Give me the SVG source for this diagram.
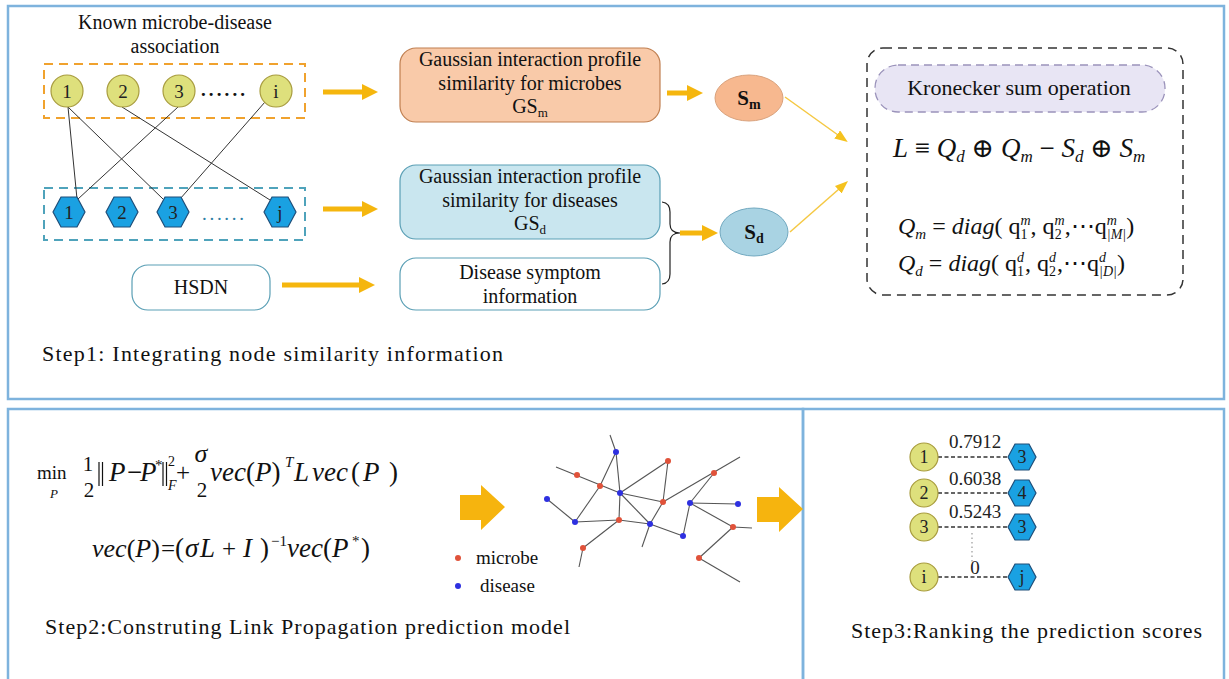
<svg xmlns="http://www.w3.org/2000/svg" width="1229" height="679" viewBox="0 0 1229 679">
<style>
.panel{fill:none;stroke:#7EB3DD;stroke-width:2.5}
.t{font-family:"Liberation Serif","Times New Roman","DejaVu Serif",serif;fill:#111}
.it{font-style:italic}
.mid{text-anchor:middle}
.mc{fill:#DEE07C;stroke:#A89C3E;stroke-width:1.2}
.dh{fill:#1AA1E2;stroke:#1F4E79;stroke-width:1.2}
.nl{font-family:"Liberation Serif","DejaVu Serif",serif;font-size:19px;text-anchor:middle;fill:#222}
.nl2{font-family:"Liberation Serif","DejaVu Serif",serif;font-size:18px;text-anchor:middle;fill:#222}
.bip{stroke:#333;stroke-width:1;fill:none}
.arr{stroke:#F5B60E;stroke-width:5;fill:none}
.thin{stroke:#F5C842;stroke-width:1.5;fill:none}
.net{stroke:#555;stroke-width:1.1}
.rn{fill:#E0523A}
.bn{fill:#2E30E0}
.score{stroke:#333;stroke-width:1.3;stroke-dasharray:4 2.5}
.lbl{font-family:"Liberation Serif","DejaVu Serif",serif;font-size:19px;text-anchor:middle;fill:#222}
.big{fill:#F6B40E}
.bar{stroke:#111;stroke-width:1.2}
</style>
<defs>
<marker id="ah" markerUnits="userSpaceOnUse" markerWidth="18" markerHeight="18" refX="1" refY="8" orient="auto"><path d="M0,0 L16,8 L0,16 z" fill="#F5B60E"/></marker>
<marker id="ah2" markerUnits="userSpaceOnUse" markerWidth="14" markerHeight="12" refX="1" refY="5" orient="auto"><path d="M0,0 L13,5 L0,10 z" fill="#F5C21E"/></marker>
<polygon id="hex" points="-16,0 -8,-15 8,-15 16,0 8,15 -8,15"/>
<polygon id="hexs" points="-14,0 -7,-13 7,-13 14,0 7,13 -7,13"/>
</defs>

<!-- panels -->
<rect class="panel" x="8" y="6" width="1216" height="393"/>
<rect class="panel" x="8" y="409" width="795" height="276"/>
<rect class="panel" x="803" y="409" width="421" height="276"/>

<!-- Step 1 -->
<g id="known-assoc">
<text class="t mid" x="175" y="29" font-size="20">Known microbe-disease</text>
<text class="t mid" x="175" y="53" font-size="20">association</text>
<rect x="44" y="64" width="261" height="54" fill="none" stroke="#F0A22E" stroke-width="2" stroke-dasharray="9 6"/>
<rect x="44" y="188" width="261" height="52" fill="none" stroke="#4FA3BB" stroke-width="2" stroke-dasharray="9 6"/>
</g>

<g id="connectors">
<line class="bip" x1="68" y1="107" x2="77" y2="199"/>
<line class="bip" x1="68" y1="107" x2="163" y2="199"/>
<line class="bip" x1="122" y1="107" x2="270" y2="200"/>
<line class="bip" x1="178" y1="107" x2="78" y2="199"/>
<line class="bip" x1="265" y1="102" x2="180" y2="199"/>
<line class="arr" x1="323" y1="92" x2="363" y2="92" marker-end="url(#ah)"/>
<line class="arr" x1="323" y1="209" x2="363" y2="209" marker-end="url(#ah)"/>
<line class="arr" x1="282" y1="285" x2="360" y2="285" marker-end="url(#ah)"/>
<line class="arr" x1="667" y1="93" x2="688" y2="93" marker-end="url(#ah)"/>
<line class="arr" x1="680" y1="233" x2="703" y2="233" marker-end="url(#ah)"/>
<path d="M662,202 Q670,203 670,212 L670,224 Q670,233 680,233 Q670,233 670,242 L670,274 Q670,283 662,284" fill="none" stroke="#222" stroke-width="1.2"/>
<line class="thin" x1="785" y1="97" x2="838" y2="135" marker-end="url(#ah2)"/>
<line class="thin" x1="790" y1="232" x2="839" y2="189" marker-end="url(#ah2)"/>
</g>

<g id="microbe-1"><circle class="mc" cx="67" cy="91" r="16"/><text class="nl" x="67" y="98">1</text></g>
<g id="microbe-2"><circle class="mc" cx="123" cy="91" r="16"/><text class="nl" x="123" y="98">2</text></g>
<g id="microbe-3"><circle class="mc" cx="179" cy="91" r="16"/><text class="nl" x="179" y="98">3</text></g>
<text class="t" x="201" y="96" font-size="19" font-weight="bold" textLength="44">......</text>
<g id="microbe-i"><circle class="mc" cx="276" cy="91" r="16"/><text class="nl" x="276" y="98">i</text></g>

<g id="disease-1"><use href="#hex" class="dh" x="69" y="212"/><text class="nl" x="69" y="219">1</text></g>
<g id="disease-2"><use href="#hex" class="dh" x="122" y="212"/><text class="nl" x="122" y="219">2</text></g>
<g id="disease-3"><use href="#hex" class="dh" x="173" y="212"/><text class="nl" x="173" y="219">3</text></g>
<text class="t" x="202" y="220" font-size="19" textLength="42" style="fill:#2f7fa5">......</text>
<g id="disease-j"><use href="#hex" class="dh" x="280" y="212"/><text class="nl" x="280" y="219">j</text></g>

<g id="gs-microbe">
<rect x="400" y="48" width="260" height="74" rx="16" fill="#F9CAA9" stroke="#C07F50" stroke-width="1.2"/>
<text class="t mid" x="530" y="66" font-size="20">Gaussian interaction profile</text>
<text class="t mid" x="530" y="90" font-size="20">similarity  for microbes</text>
<text class="t mid" x="530" y="113" font-size="20">GS<tspan font-size="13" dy="4">m</tspan></text>
</g>
<g id="sm"><ellipse cx="749" cy="98" rx="34" ry="23" fill="#F7B88F" stroke="#D9A27D" stroke-width="1"/><text class="t mid" x="749" y="105" font-size="21" font-weight="bold">S<tspan font-size="14" dy="4">m</tspan></text></g>

<g id="gs-disease">
<rect x="400" y="165" width="260" height="74" rx="16" fill="#C9E6EF" stroke="#5A9FB5" stroke-width="1.2"/>
<text class="t mid" x="530" y="183" font-size="20">Gaussian interaction profile</text>
<text class="t mid" x="530" y="207" font-size="20">similarity  for diseases</text>
<text class="t mid" x="530" y="230" font-size="20">GS<tspan font-size="13" dy="4">d</tspan></text>
</g>
<g id="symptom">
<rect x="400" y="258" width="260" height="52" rx="16" fill="#fff" stroke="#5A9FB5" stroke-width="1.2"/>
<text class="t mid" x="530" y="279" font-size="20">Disease symptom</text>
<text class="t mid" x="530" y="303" font-size="20">information</text>
</g>
<g id="sd"><ellipse cx="754" cy="232" rx="34" ry="24" fill="#A9D3E3" stroke="#72A9C0" stroke-width="1"/><text class="t mid" x="754" y="239" font-size="21" font-weight="bold">S<tspan font-size="14" dy="4">d</tspan></text></g>

<g id="hsdn">
<rect x="132" y="265" width="138" height="45" rx="16" fill="#fff" stroke="#5A9FB5" stroke-width="1.2"/>
<text class="t mid" x="201" y="294" font-size="20">HSDN</text>
</g>

<g id="kronecker">
<rect x="867" y="48" width="316" height="247" rx="16" fill="none" stroke="#333" stroke-width="1.5" stroke-dasharray="9 6"/>
<rect x="875" y="65" width="290" height="47" rx="23" fill="#E8E5F4" stroke="#9A92BA" stroke-width="1.3" stroke-dasharray="8 5"/>
<text class="t mid" x="1019" y="95" font-size="22">Kronecker sum operation</text>
<text class="t" x="893" y="157" font-size="27"><tspan class="it">L</tspan> ≡ <tspan class="it">Q</tspan><tspan class="it" font-size="17" dy="5">d</tspan><tspan dy="-5"> ⊕ </tspan><tspan class="it">Q</tspan><tspan class="it" font-size="17" dy="5">m</tspan><tspan dy="-5"> − </tspan><tspan class="it">S</tspan><tspan class="it" font-size="17" dy="5">d</tspan><tspan dy="-5"> ⊕ </tspan><tspan class="it">S</tspan><tspan class="it" font-size="17" dy="5">m</tspan></text>
<text class="t" x="898" y="234" font-size="24"><tspan class="it">Q</tspan><tspan class="it" font-size="15" dy="5">m</tspan><tspan dy="-5"> = </tspan><tspan class="it">diag</tspan>( q<tspan class="it" font-size="14" dy="-9">m</tspan><tspan font-size="14" dx="-10" dy="14">1</tspan><tspan dx="3" dy="-5">, q</tspan><tspan class="it" font-size="14" dy="-9">m</tspan><tspan font-size="14" dx="-10" dy="14">2</tspan><tspan dx="3" dy="-5">,⋯q</tspan><tspan class="it" font-size="14" dy="-9">m</tspan><tspan class="it" font-size="14" dx="-10" dy="14">|M|</tspan><tspan dy="-5">)</tspan></text>
<text class="t" x="898" y="271" font-size="24"><tspan class="it">Q</tspan><tspan class="it" font-size="15" dy="5">d</tspan><tspan dy="-5"> = </tspan><tspan class="it">diag</tspan>( q<tspan class="it" font-size="14" dy="-9">d</tspan><tspan font-size="14" dx="-7" dy="14">1</tspan><tspan dx="1" dy="-5">, q</tspan><tspan class="it" font-size="14" dy="-9">d</tspan><tspan font-size="14" dx="-7" dy="14">2</tspan><tspan dx="1" dy="-5">,⋯q</tspan><tspan class="it" font-size="14" dy="-9">d</tspan><tspan class="it" font-size="14" dx="-7" dy="14">|D|</tspan><tspan dy="-5">)</tspan></text>
</g>

<text class="t" x="42" y="361" font-size="22" textLength="461">Step1: Integrating node similarity information</text>

<!-- Step 2 -->
<g id="formula">
<text class="t" x="37" y="479" font-size="19">min</text>
<text class="t it" x="50" y="498" font-size="13">P</text>
<text class="t mid" x="88" y="471" font-size="21">1</text>
<text class="t mid" x="89" y="497" font-size="21">2</text>
<line class="bar" x1="99" y1="462" x2="99" y2="486"/>
<line class="bar" x1="102.5" y1="462" x2="102.5" y2="486"/>
<text class="t it" x="109" y="481" font-size="27">P</text>
<text class="t" x="127" y="481" font-size="27">−</text>
<text class="t it" x="140" y="481" font-size="27">P</text>
<text class="t" x="155" y="470" font-size="15">*</text>
<line class="bar" x1="163" y1="462" x2="163" y2="486"/>
<line class="bar" x1="166.5" y1="462" x2="166.5" y2="486"/>
<text class="t" x="168" y="466" font-size="14">2</text>
<text class="t it" x="168" y="490" font-size="14">F</text>
<text class="t" x="176" y="481" font-size="25">+</text>
<text class="t it mid" x="201" y="462" font-size="26">σ</text>
<text class="t mid" x="202" y="497" font-size="21">2</text>
<text class="t" x="210" y="481" font-size="27"><tspan class="it">vec</tspan>(<tspan class="it">P</tspan>)</text>
<text class="t it" x="285" y="467" font-size="15">T</text>
<text class="t it" x="294" y="481" font-size="27">L</text>
<text class="t it" x="312" y="481" font-size="27">vec</text>
<text class="t" x="351" y="481" font-size="27">(</text>
<text class="t it" x="363" y="481" font-size="27">P</text>
<text class="t" x="389" y="481" font-size="27">)</text>
<text class="t" x="92" y="557" font-size="26"><tspan class="it">vec</tspan>(<tspan class="it">P</tspan>)</text>
<text class="t" x="161" y="557" font-size="25">=</text>
<text class="t" x="175" y="557" font-size="27">(</text>
<text class="t it" x="185" y="557" font-size="27">σ</text>
<text class="t it" x="200" y="557" font-size="27">L</text>
<text class="t" x="222" y="557" font-size="25">+</text>
<text class="t it" x="243" y="557" font-size="27">I</text>
<text class="t" x="260" y="557" font-size="27">)</text>
<text class="t" x="271" y="546" font-size="15">−1</text>
<text class="t" x="287" y="557" font-size="27"><tspan class="it">vec</tspan>(<tspan class="it">P</tspan></text>
<text class="t" x="352" y="546" font-size="15">*</text>
<text class="t" x="361" y="557" font-size="27">)</text>
</g>

<polygon id="arrow-a" class="big" points="460,495 481,495 481,485 505,507 481,530 481,520 460,520"/>

<g id="network">
<line class="net" x1="610" y1="435" x2="616" y2="452"/>
<line class="net" x1="616" y1="452" x2="620" y2="493"/>
<line class="net" x1="616" y1="452" x2="600" y2="486"/>
<line class="net" x1="556" y1="467" x2="620" y2="493"/>
<line class="net" x1="620" y1="493" x2="668" y2="461"/>
<line class="net" x1="668" y1="461" x2="663" y2="502"/>
<line class="net" x1="620" y1="493" x2="663" y2="502"/>
<line class="net" x1="663" y1="502" x2="740" y2="457"/>
<line class="net" x1="714" y1="473" x2="690" y2="503"/>
<line class="net" x1="690" y1="503" x2="738" y2="504"/>
<line class="net" x1="690" y1="503" x2="733" y2="527"/>
<line class="net" x1="733" y1="527" x2="752" y2="528"/>
<line class="net" x1="733" y1="527" x2="699" y2="558"/>
<line class="net" x1="699" y1="558" x2="740" y2="582"/>
<line class="net" x1="690" y1="503" x2="683" y2="536"/>
<line class="net" x1="683" y1="536" x2="650" y2="524"/>
<line class="net" x1="650" y1="524" x2="619" y2="520"/>
<line class="net" x1="619" y1="520" x2="575" y2="522"/>
<line class="net" x1="619" y1="520" x2="620" y2="493"/>
<line class="net" x1="620" y1="493" x2="650" y2="524"/>
<line class="net" x1="650" y1="524" x2="663" y2="502"/>
<line class="net" x1="650" y1="524" x2="642" y2="547"/>
<line class="net" x1="575" y1="522" x2="600" y2="486"/>
<line class="net" x1="575" y1="522" x2="547" y2="499"/>
<line class="net" x1="619" y1="520" x2="583" y2="548"/>
<line class="net" x1="583" y1="548" x2="579" y2="567"/>
<circle class="bn" cx="616" cy="452" r="3"/>
<circle class="bn" cx="620" cy="493" r="3"/>
<circle class="bn" cx="547" cy="499" r="3"/>
<circle class="bn" cx="575" cy="522" r="3"/>
<circle class="bn" cx="650" cy="524" r="3"/>
<circle class="bn" cx="683" cy="536" r="3"/>
<circle class="bn" cx="690" cy="503" r="3"/>
<circle class="bn" cx="738" cy="504" r="3"/>
<circle class="rn" cx="577" cy="475" r="3"/>
<circle class="rn" cx="600" cy="486" r="3"/>
<circle class="rn" cx="668" cy="461" r="3"/>
<circle class="rn" cx="714" cy="473" r="3"/>
<circle class="rn" cx="663" cy="502" r="3"/>
<circle class="rn" cx="619" cy="520" r="3"/>
<circle class="rn" cx="733" cy="527" r="3"/>
<circle class="rn" cx="583" cy="548" r="3"/>
<circle class="rn" cx="699" cy="558" r="3"/>
</g>

<g id="legend">
<circle class="rn" cx="458" cy="558" r="3"/>
<text class="t" x="476" y="564" font-size="19">microbe</text>
<circle class="bn" cx="458" cy="586" r="3"/>
<text class="t" x="480" y="592" font-size="19">disease</text>
</g>

<polygon id="arrow-b" class="big" points="757,497 779,497 779,487 803,509 779,532 779,522 757,522"/>

<text class="t" x="45" y="634" font-size="22" textLength="525">Step2:Construting Link Propagation prediction model</text>

<!-- Step 3 -->
<g id="ranking">
<line class="score" x1="938" y1="457" x2="1008" y2="457"/>
<line class="score" x1="938" y1="493" x2="1008" y2="493"/>
<line class="score" x1="938" y1="527" x2="1008" y2="527"/>
<line class="score" x1="938" y1="577" x2="1008" y2="577"/>
<line x1="972" y1="533" x2="972" y2="562" stroke="#999" stroke-width="1.2" stroke-dasharray="1.5 3"/>
<text class="lbl" x="975" y="448">0.7912</text>
<text class="lbl" x="975" y="485">0.6038</text>
<text class="lbl" x="975" y="518">0.5243</text>
<text class="lbl" x="975" y="574">0</text>
</g>
<g id="r-m1"><circle class="mc" cx="924" cy="457" r="14"/><text class="nl2" x="924" y="463">1</text></g>
<g id="r-m2"><circle class="mc" cx="924" cy="493" r="14"/><text class="nl2" x="924" y="499">2</text></g>
<g id="r-m3"><circle class="mc" cx="924" cy="527" r="14"/><text class="nl2" x="924" y="533">3</text></g>
<g id="r-mi"><circle class="mc" cx="924" cy="577" r="14"/><text class="nl2" x="924" y="583">i</text></g>
<g id="r-d3a"><use href="#hexs" class="dh" x="1022" y="457"/><text class="nl2" x="1022" y="463">3</text></g>
<g id="r-d4"><use href="#hexs" class="dh" x="1022" y="493"/><text class="nl2" x="1022" y="499">4</text></g>
<g id="r-d3b"><use href="#hexs" class="dh" x="1022" y="527"/><text class="nl2" x="1022" y="533">3</text></g>
<g id="r-dj"><use href="#hexs" class="dh" x="1022" y="577"/><text class="nl2" x="1022" y="583">j</text></g>

<text class="t" x="851" y="638" font-size="22" textLength="351">Step3:Ranking the prediction scores</text>
</svg>
